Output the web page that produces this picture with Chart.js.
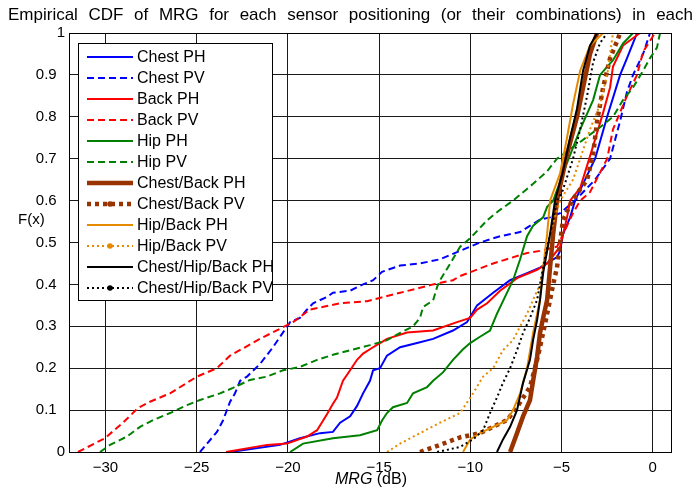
<!DOCTYPE html>
<html>
<head>
<meta charset="utf-8">
<script src="https://cdn.jsdelivr.net/npm/chart.js@4.4.1/dist/chart.umd.min.js"></script>
<style>
html,body{margin:0;padding:0;background:#fff;}
#wrap{position:relative;width:699px;height:495px;}
</style>
</head>
<body>
<div id="wrap"><canvas id="c" width="699" height="495"></canvas></div>
<script>
// ---- data (x in dB, F = empirical CDF) ----
const titleText = "Empirical CDF of MRG for each sensor positioning (or their combinations) in each";
const xTickValues = [-30, -25, -20, -15, -10, -5, 0];
const yTickValues = [0, 0.1, 0.2, 0.3, 0.4, 0.5, 0.6, 0.7, 0.8, 0.9, 1];
const seriesNames = ["Chest PH","Chest PV","Back PH","Back PV","Hip PH","Hip PV",
  "Chest/Back PH","Chest/Back PV","Hip/Back PH","Hip/Back PV","Chest/Hip/Back PH","Chest/Hip/Back PV"];

const chestPH_x = [-23.17,-20.43,-19.34,-18.24,-17.53,-17.14,-16.59,-16.21,-15.88,-15.5,-15.33,-14.95,-14.57,-13.85,-12.92,-12.04,-10.95,-10.18,-9.63,-8.75,-7.82,-6.89,-6.18,-5.25,-5.08,-4.92,-4.53,-4.26,-3.71,-3.16,-2.5,-1.79,-1.41,-0.86];
const chestPH_F = [0,0.017,0.033,0.045,0.048,0.07,0.085,0.11,0.14,0.17,0.195,0.2,0.23,0.25,0.26,0.27,0.29,0.31,0.35,0.38,0.41,0.427,0.44,0.465,0.48,0.52,0.56,0.6,0.65,0.7,0.8,0.9,0.94,1];

const chestPV_x = [-24.82,-23.89,-23.56,-23.17,-22.9,-22.62,-22.24,-21.53,-20.82,-20.43,-19.88,-19.34,-18.95,-18.62,-17.86,-17.53,-16.59,-15.88,-15.33,-14.84,-13.85,-12.76,-11.66,-10.56,-9.47,-8.37,-7.27,-6.18,-5.63,-5.08,-4.26,-3.16,-2.34,-1.79,-1.41,-1.08,-0.53,-0.15];
const chestPV_F = [0,0.048,0.075,0.12,0.14,0.17,0.18,0.21,0.25,0.275,0.31,0.32,0.34,0.355,0.37,0.38,0.385,0.4,0.41,0.43,0.445,0.45,0.46,0.48,0.5,0.515,0.525,0.555,0.56,0.57,0.6,0.65,0.7,0.79,0.86,0.9,0.95,1];

const backPH_x = [-23.39,-21.14,-20.05,-18.95,-18.4,-18.07,-17.86,-17.53,-17.31,-16.98,-16.59,-16.21,-15.88,-15.33,-14.95,-14.57,-13.47,-12.04,-10.73,-10.01,-9.63,-9.08,-8.37,-7.44,-6.34,-5.79,-5.08,-4.92,-4.7,-4.53,-3.98,-3.27,-2.72,-2.34,-2.18,-1.63,-0.7];
const backPH_F = [0,0.017,0.02,0.037,0.052,0.075,0.09,0.115,0.13,0.17,0.195,0.22,0.235,0.25,0.26,0.27,0.285,0.29,0.31,0.32,0.34,0.355,0.385,0.415,0.435,0.45,0.49,0.52,0.56,0.6,0.63,0.73,0.81,0.87,0.92,0.97,1];

const backPV_x = [-31.51,-30.03,-29.04,-28.22,-27.56,-26.46,-24.98,-23.89,-23.17,-21.53,-19.72,-18.79,-17.14,-15.66,-13.85,-12.04,-10.95,-10.56,-8.75,-6.89,-6.18,-5.25,-5.08,-4.7,-4.37,-3.98,-3.44,-2.5,-2.18,-1.41,-0.86,-0.53,0.12];
const backPV_F = [0,0.033,0.07,0.105,0.12,0.14,0.18,0.2,0.23,0.27,0.31,0.34,0.355,0.36,0.38,0.4,0.41,0.42,0.45,0.475,0.48,0.49,0.505,0.54,0.57,0.6,0.62,0.7,0.77,0.85,0.9,0.955,1];

const hipPH_x = [-19.88,-19.17,-17.53,-16.05,-15.11,-14.84,-14.57,-14.24,-13.47,-13.14,-12.37,-12.04,-11.5,-10.95,-10.4,-10.01,-9.47,-8.92,-8.54,-8.21,-7.66,-7.27,-6.89,-6.56,-6.01,-5.79,-5.46,-4.7,-3.98,-3.27,-2.89,-2.18,-1.63,-1.08];
const hipPH_F = [0,0.02,0.033,0.04,0.052,0.075,0.093,0.107,0.117,0.14,0.155,0.17,0.19,0.22,0.245,0.26,0.275,0.29,0.33,0.36,0.41,0.46,0.515,0.54,0.56,0.585,0.6,0.69,0.77,0.84,0.9,0.935,0.975,1];

const hipPV_x = [-30.3,-29.75,-28.82,-28.11,-27.39,-26.46,-25.53,-24.82,-23.72,-23.01,-22.08,-21.14,-20.27,-19.34,-18.4,-17.53,-16.59,-15.5,-14.57,-13.85,-13.14,-12.76,-12.59,-12.04,-11.82,-11.66,-11.1,-10.56,-10.01,-9.08,-8.37,-7.66,-6.56,-5.79,-5.25,-3.98,-2.89,-2.18,-1.63,-1.08,-0.53,-0.15,0.23,0.4];
const hipPV_F = [0,0.017,0.037,0.06,0.076,0.093,0.112,0.124,0.14,0.153,0.172,0.18,0.195,0.203,0.22,0.232,0.243,0.255,0.267,0.284,0.3,0.32,0.346,0.362,0.394,0.41,0.45,0.49,0.51,0.553,0.578,0.6,0.64,0.67,0.7,0.74,0.775,0.8,0.84,0.87,0.91,0.94,0.965,1];

const cbPH_x = [-7.82,-7.44,-7.11,-6.73,-6.56,-6.34,-6.18,-6.01,-5.79,-5.63,-5.46,-5.25,-4.7,-4.15,-3.82,-3.44,-3.05];
const cbPH_F = [0,0.045,0.085,0.124,0.17,0.227,0.284,0.32,0.363,0.44,0.52,0.6,0.71,0.8,0.87,0.95,1];

const cbPV_x = [-12.76,-11.66,-10.56,-9.47,-8.75,-7.99,-7.44,-6.73,-6.34,-6.01,-5.63,-5.46,-5.25,-5.08,-4.92,-4.42,-3.6,-3.27,-3.05,-2.72,-2.34,-1.96,-1.79];
const cbPV_F = [0,0.017,0.035,0.045,0.06,0.076,0.107,0.155,0.22,0.284,0.363,0.4,0.44,0.5,0.553,0.6,0.65,0.71,0.79,0.87,0.94,0.98,1];

const hbPH_x = [-10.4,-10.01,-9.47,-8.75,-7.99,-7.66,-7.27,-6.89,-6.56,-6.18,-6.01,-5.79,-5.63,-5.08,-4.7,-4.37,-3.98,-3.44,-2.72];
const hbPH_F = [0,0.03,0.045,0.06,0.076,0.1,0.14,0.2,0.284,0.363,0.44,0.52,0.6,0.665,0.75,0.83,0.91,0.97,1];

const hbPV_x = [-14.57,-13.85,-12.76,-11.66,-10.56,-9.85,-9.3,-8.75,-8.21,-7.66,-7.27,-6.89,-6.56,-6.18,-6.01,-5.79,-5.63,-5.08,-4.37,-3.98,-3.44,-2.89,-2.5,-2.34,-2.18];
const hbPV_F = [0,0.02,0.045,0.07,0.093,0.14,0.18,0.2,0.243,0.267,0.3,0.33,0.363,0.4,0.44,0.48,0.52,0.6,0.65,0.7,0.77,0.83,0.9,0.95,1];

const chbPH_x = [-8.54,-8.21,-7.82,-7.44,-7.11,-6.73,-6.56,-6.34,-6.18,-6.01,-5.79,-5.63,-5.36,-4.92,-4.53,-4.15,-3.82,-3.44,-3.05];
const chbPH_F = [0,0.03,0.06,0.1,0.165,0.22,0.267,0.315,0.363,0.427,0.48,0.52,0.6,0.67,0.75,0.82,0.91,0.97,1];

const chbPV_x = [-11.82,-10.56,-9.85,-9.3,-8.92,-8.54,-8.21,-7.82,-7.44,-7.11,-6.73,-6.34,-6.01,-5.63,-5.25,-4.97,-4.37,-3.98,-3.6,-3.27,-2.89,-2.5];
const chbPV_F = [0,0.012,0.03,0.052,0.093,0.13,0.165,0.2,0.243,0.284,0.32,0.363,0.44,0.52,0.6,0.62,0.7,0.77,0.85,0.93,0.976,1];

// ---- styles ----
const BLUE = "#0000ff", RED = "#ff0000", GREEN = "#008000", BROWN = "#993300", ORANGE = "#e68a00", BLACK = "#000000";
const DASH = [7, 4];
const styles = [
  {c: BLUE, w: 2, d: []},
  {c: BLUE, w: 2, d: DASH},
  {c: RED, w: 2, d: []},
  {c: RED, w: 2, d: DASH},
  {c: GREEN, w: 2, d: []},
  {c: GREEN, w: 2, d: DASH},
  {c: BROWN, w: 4.5, d: []},
  {c: BROWN, w: 4.5, d: [4, 4], m: true},
  {c: ORANGE, w: 2, d: []},
  {c: ORANGE, w: 2, d: [2, 3], m: true},
  {c: BLACK, w: 2, d: []},
  {c: BLACK, w: 2, d: [2, 3], m: true}
];
const seriesX = [chestPH_x, chestPV_x, backPH_x, backPV_x, hipPH_x, hipPV_x, cbPH_x, cbPV_x, hbPH_x, hbPV_x, chbPH_x, chbPV_x];
const seriesF = [chestPH_F, chestPV_F, backPH_F, backPV_F, hipPH_F, hipPV_F, cbPH_F, cbPV_F, hbPH_F, hbPV_F, chbPH_F, chbPV_F];

const datasets = seriesNames.map((name, i) => ({
  label: name,
  data: seriesX[i].map((x, k) => ({x: x, y: seriesF[i][k]})),
  showLine: true,
  borderColor: styles[i].c,
  backgroundColor: styles[i].c,
  borderWidth: styles[i].w,
  borderDash: styles[i].d,
  borderCapStyle: 'butt',
  pointRadius: 0,
  pointHoverRadius: 0,
  tension: 0,
  fill: false,
  order: seriesNames.length - i
}));

const FONT = "'Liberation Sans', Arial, Helvetica, sans-serif";
const fmt = v => (v < 0 ? "\u2212" + String(-v) : String(v));
const fmtY = v => {
  const r = Math.round(v * 10) / 10;
  return (r === 0 || r === 1) ? String(r) : String(r) + "\u2007";
};

const decor = {
  id: 'decor',
  afterDraw(chart) {
    const ctx = chart.ctx, a = chart.chartArea;
    ctx.save();
    // axes box
    ctx.strokeStyle = '#000';
    ctx.lineWidth = 1;
    ctx.setLineDash([]);
    ctx.strokeRect(Math.round(a.left) + 0.5, Math.round(a.top) + 0.5, Math.round(a.right - a.left), Math.round(a.bottom - a.top));
    // title (justified)
    ctx.fillStyle = '#000';
    ctx.font = "17px " + FONT;
    ctx.textBaseline = 'alphabetic';
    ctx.textAlign = 'left';
    const words = titleText.split(' ');
    const left = 8, right = 693;
    let total = 0;
    words.forEach(w => total += ctx.measureText(w).width);
    const gap = (right - left - total) / (words.length - 1);
    let x = left;
    words.forEach(w => { ctx.fillText(w, x, 20); x += ctx.measureText(w).width + gap; });
    // y label
    ctx.font = "15px " + FONT;
    ctx.textAlign = 'left';
    ctx.textBaseline = 'middle';
    ctx.fillText("F(x)", 18, 220);
    // x label: italic MRG + (dB)
    ctx.textBaseline = 'middle';
    ctx.font = "italic 16px " + FONT;
    const p1 = "MRG", p2 = " (dB)";
    const w1 = ctx.measureText(p1).width;
    ctx.font = "16px " + FONT;
    const w2 = ctx.measureText(p2).width;
    const cx = 371;
    let sx = cx - (w1 + w2) / 2;
    ctx.font = "italic 16px " + FONT;
    ctx.fillText(p1, sx, 480);
    ctx.font = "16px " + FONT;
    ctx.fillText(p2, sx + w1, 480);
    // legend
    const bx = 78, by = 43, bw = 194, bh = 257;
    ctx.fillStyle = '#fff';
    ctx.fillRect(bx, by, bw, bh);
    ctx.strokeStyle = '#000';
    ctx.lineWidth = 1;
    ctx.strokeRect(bx + 0.5, by + 0.5, bw, bh);
    ctx.font = "16px " + FONT;
    ctx.textBaseline = 'middle';
    seriesNames.forEach((name, i) => {
      const y = 57 + i * 21;
      const s = styles[i];
      ctx.strokeStyle = s.c;
      ctx.lineWidth = s.w;
      ctx.lineCap = 'butt';
      ctx.setLineDash(s.d);
      ctx.beginPath();
      ctx.moveTo(87, y);
      ctx.lineTo(133, y);
      ctx.stroke();
      ctx.setLineDash([]);
      if (s.m) {
        ctx.fillStyle = s.c;
        ctx.beginPath();
        ctx.arc(110, y, 2.8, 0, Math.PI * 2);
        ctx.fill();
      }
      ctx.fillStyle = '#000';
      ctx.fillText(name, 137, y + 1);
    });
    ctx.restore();
  }
};

new Chart(document.getElementById('c'), {
  type: 'scatter',
  data: {datasets: datasets},
  options: {
    responsive: false,
    animation: false,
    events: [],
    layout: {padding: {left: 0, top: 33, right: 28, bottom: 0}},
    plugins: {legend: {display: false}, tooltip: {enabled: false}, title: {display: false}},
    scales: {
      x: {
        type: 'linear', min: -32, max: 1,
        afterBuildTicks: s => { s.ticks = xTickValues.map(v => ({value: v})); },
        afterFit: s => { s.height = 495 - 452; },
        grid: {color: '#1a1a1a', lineWidth: 1, drawTicks: false},
        border: {display: false},
        ticks: {color: '#000', font: {family: FONT, size: 15}, padding: 7, maxRotation: 0, autoSkip: false,
                callback: v => fmt(v)}
      },
      y: {
        type: 'linear', min: 0, max: 1,
        afterBuildTicks: s => { s.ticks = yTickValues.map(v => ({value: v})); },
        afterFit: s => { s.width = 69; },
        grid: {color: '#1a1a1a', lineWidth: 1, drawTicks: false},
        border: {display: false},
        ticks: {color: '#000', font: {family: FONT, size: 15}, padding: 4, autoSkip: false,
                callback: v => fmtY(v)}
      }
    }
  },
  plugins: [decor]
});
</script>
</body>
</html>
